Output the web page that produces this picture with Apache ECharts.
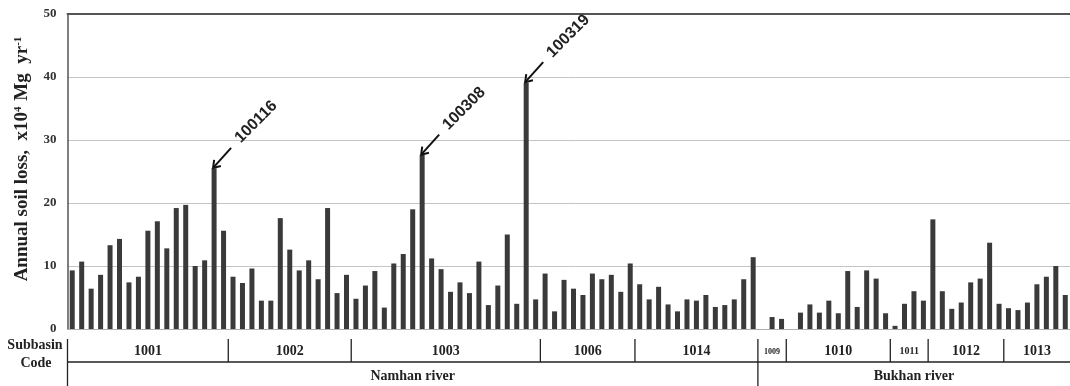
<!DOCTYPE html>
<html><head><meta charset="utf-8">
<script src="https://cdn.jsdelivr.net/npm/echarts@6/dist/echarts.min.js"></script>
<style>html,body{margin:0;padding:0;background:#fff}#c{width:1070px;height:386px}</style>
</head><body><div id="c"></div>
<script>
// ---- data ----
const groupCodes  = ['1001','1002','1003','1006','1014','1009','1010','1011','1012','1013'];
const riverNames  = ['Namhan river','Bukhan river'];
const riverGroupCounts = [5, 5];
const loss1001 = [9.3,10.7,6.4,8.6,13.3,14.3,7.4,8.3,15.6,17.1,12.8,19.2,19.7,10.0,10.9,25.5,15.6];
const loss1002 = [8.3,7.3,9.6,4.5,4.5,17.6,12.6,9.3,10.9,7.9,19.2,5.7,8.6];
const loss1003 = [4.8,6.9,9.2,3.4,10.4,11.9,19.0,27.6,11.2,9.5,5.9,7.4,5.7,10.7,3.8,6.9,15.0,4.0,39.1,4.7];
const loss1006 = [8.8,2.8,7.8,6.4,5.4,8.8,7.9,8.6,5.9,10.4];
const loss1014 = [7.1,4.7,6.7,3.9,2.8,4.7,4.5,5.4,3.5,3.8,4.7,7.9,11.4];
const loss1009 = [0,1.9,1.6];
const loss1010 = [0,2.6,3.9,2.6,4.5,2.5,9.2,3.5,9.3,8.0,2.5];
const loss1011 = [0.5,4.0,6.0,4.5];
const loss1012 = [17.4,6.0,3.2,4.2,7.4,8.0,13.7,4.0];
const loss1013 = [3.3,3.0,4.2,7.1,8.3,10.0,5.4];
const groupValues = [loss1001,loss1002,loss1003,loss1006,loss1014,loss1009,loss1010,loss1011,loss1012,loss1013];
const annotated = ['100116','100308','100319'];
const yTicks = [0,10,20,30,40,50];

// ---- build ----
const categories = [], values = [], groupStart = [];
groupCodes.forEach((code, g) => {
  groupStart.push(categories.length);
  groupValues[g].forEach((v, i) => {
    categories.push(code + String(i + 1).padStart(2, '0'));
    values.push(v);
  });
});

const serif = 'Liberation Serif, Times New Roman, serif';
const chart = echarts.init(document.getElementById('c'), null, {renderer: 'canvas'});
chart.setOption({
  animation: false,
  backgroundColor: '#fff',
  grid: {left: 67.5, top: 14, width: 1007, height: 315},
  xAxis: [{
    type: 'category', data: categories,
    axisLine: {show: true, lineStyle: {color: '#b0b0b0', width: 1}},
    axisTick: {show: false}, axisLabel: {show: false}
  }, {
    type: 'category', data: categories, position: 'top',
    axisLine: {show: true, lineStyle: {color: '#555', width: 2}},
    axisTick: {show: false}, axisLabel: {show: false}
  }],
  yAxis: {
    type: 'value', min: yTicks[0], max: yTicks[yTicks.length - 1], interval: yTicks[1] - yTicks[0],
    axisLine: {show: true, lineStyle: {color: '#555', width: 1.5}},
    axisTick: {show: false},
    axisLabel: {fontFamily: serif, fontWeight: 'bold', fontSize: 13, color: '#333', margin: 11},
    splitLine: {lineStyle: {color: '#c4c4c4', width: 1}},
    name: 'Annual soil loss,  x10{sup|4} Mg  yr{sup|-1}',
    nameLocation: 'middle', nameGap: 36, nameRotate: 90,
    nameTextStyle: {
      fontFamily: serif, fontWeight: 'bold', fontSize: 19, color: '#222',
      padding: [0, 0, 0, 26],
      rich: {sup: {fontFamily: serif, fontWeight: 'bold', fontSize: 11, color: '#222', verticalAlign: 'top', padding: [0, 1, 7, 0]}}
    }
  },
  series: [{
    type: 'bar', data: values, barWidth: 5,
    itemStyle: {color: '#3a3a3a'}
  }]
});

// ---- bottom table & annotations, positioned from the library's scales ----
const px = i => chart.convertToPixel({xAxisIndex: 0}, categories[i]);
const step = px(1) - px(0);
const bounds = groupStart.map(s => s === 0 ? px(0) - step / 2 : (px(s - 1) + px(s)) / 2);
bounds.push(px(categories.length - 1) + step / 2);

const els = [];
const ln = (x1, y1, x2, y2, w) => els.push({type: 'line', shape: {x1, y1, x2, y2}, style: {stroke: '#222', lineWidth: w || 1.3}, z: 10});
const txt = (x, y, t, size, family, extra) => els.push(Object.assign({
  type: 'text', x, y, z: 10,
  style: {text: t, fontFamily: family || serif, fontWeight: 'bold', fontSize: size, fill: '#222', align: 'center', verticalAlign: 'middle'}
}, extra || {}));

const rowTop = 339, rowMid = 362, rowBot = 386;
ln(bounds[0], rowTop, bounds[0], rowBot);
ln(bounds[0], rowMid, bounds[bounds.length - 1], rowMid);
for (let g = 1; g < groupCodes.length; g++) ln(bounds[g], rowTop, bounds[g], rowMid);
const smallLabel = {'1009': 8, '1011': 10};
groupCodes.forEach((code, g) => {
  txt((bounds[g] + bounds[g + 1]) / 2, 351.5, code, smallLabel[code] || 14);
});
let gi = 0;
riverNames.forEach((r, k) => {
  const a = bounds[gi], b = bounds[gi + riverGroupCounts[k]];
  if (k > 0) ln(a, rowMid, a, rowBot);
  txt((a + b) / 2, 376, r, 14);
  gi += riverGroupCounts[k];
});
txt(35, 345, 'Subbasin', 14);
txt(36, 363.5, 'Code', 14);

annotated.forEach(name => {
  const i = categories.indexOf(name);
  const p = chart.convertToPixel({seriesIndex: 0}, [name, values[i]]);
  const tip = [p[0] - 1, p[1] - 0.5];
  const tail = [tip[0] + 18, tip[1] - 20];
  els.push({type: 'line', shape: {x1: tail[0], y1: tail[1], x2: tip[0], y2: tip[1]}, style: {stroke: '#111', lineWidth: 2}, z: 11});
  const dx = tip[0] - tail[0], dy = tip[1] - tail[1], L = Math.hypot(dx, dy);
  const ux = dx / L, uy = dy / L, a = 0.6, w = 8;
  const wing = s => [tip[0] - w * (ux * Math.cos(a) - s * uy * Math.sin(a)), tip[1] - w * (uy * Math.cos(a) + s * ux * Math.sin(a))];
  els.push({type: 'polyline', shape: {points: [wing(1), tip, wing(-1)]}, style: {stroke: '#111', lineWidth: 2, fill: null}, z: 11});
  txt(tip[0] + 43, tip[1] - 46, name, 16, 'Liberation Sans, Arial, sans-serif', {rotation: Math.PI / 4});
});
chart.setOption({graphic: {elements: els}});
</script>
</body></html>
